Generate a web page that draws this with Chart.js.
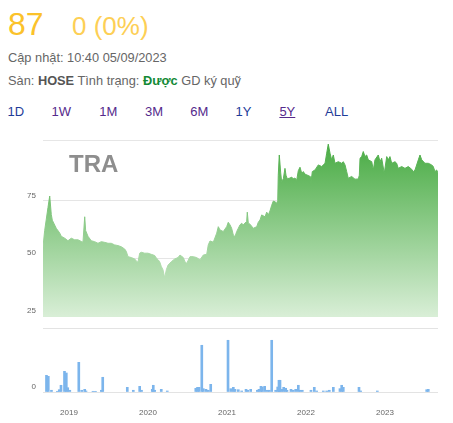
<!DOCTYPE html>
<html>
<head>
<meta charset="utf-8">
<script src="https://cdn.jsdelivr.net/npm/chart.js@4.4.0/dist/chart.umd.min.js"></script>
<style>
html,body{margin:0;padding:0;background:#fff;}
body{width:453px;height:423px;position:relative;overflow:hidden;font-family:"Liberation Sans",Arial,sans-serif;color:#666;}
.t{position:absolute;white-space:nowrap;}
#last{left:8px;top:8px;font-size:32px;line-height:32px;color:#fbc22a;}
#chg{left:72px;top:13px;font-size:26px;line-height:26px;color:#fdcf55;}
#upd{left:8px;top:50px;font-size:12.8px;line-height:15px;color:#666;}
#info{left:8px;top:73px;font-size:12.8px;line-height:15px;color:#666;}
#info b{color:#555;}
#info .ok{color:#138a36;font-weight:bold;}
.tab{position:absolute;top:104px;font-size:13px;line-height:15px;color:#1f3c99;}
.tab.v{color:#552a8c;}
.tab.cur{text-decoration:underline;}
#sym{left:69px;top:152px;font-size:24px;line-height:24px;font-weight:bold;color:#8e8e8e;}
#priceBox{position:absolute;left:0;top:130px;}
#volBox{position:absolute;left:0;top:328px;}
canvas{display:block;}
</style>
</head>
<body>
<div class="t" id="last">87</div>
<div class="t" id="chg">0 (0%)</div>
<div class="t" id="upd">Cập nhật: 10:40 05/09/2023</div>
<div class="t" id="info">Sàn: <b>HOSE</b> Tình trạng: <span class="ok">Được</span> GD ký quỹ</div>
<div class="tab" style="left:7.6px">1D</div>
<div class="tab v" style="left:51.6px">1W</div>
<div class="tab v" style="left:99.3px">1M</div>
<div class="tab v" style="left:145px">3M</div>
<div class="tab v" style="left:190.3px">6M</div>
<div class="tab" style="left:235.6px">1Y</div>
<div class="tab v cur" style="left:279.4px">5Y</div>
<div class="tab" style="left:325px">ALL</div>

<div id="priceBox"><canvas id="priceChart" width="453" height="200"></canvas></div>
<div id="volBox"><canvas id="volChart" width="453" height="95"></canvas></div>
<div class="t" id="sym">TRA</div>

<script>
// time axis in decimal years (Sep 2018 -> Sep 2023)
const xMin = 2018.671;
const xMax = 2023.671;
const yearTicks = [2019, 2020, 2021, 2022, 2023];

// price axis
const priceMin = 19.75;
const priceMax = 101;
const priceTicks = [25, 50, 75];

// closing price
const priceTime = [
  2018.671, 2018.692, 2018.713, 2018.734, 2018.756, 2018.776, 2018.789, 2018.819, 2018.839, 2018.882,
  2018.903, 2018.946, 2018.987, 2019.029, 2019.072, 2019.114, 2019.156, 2019.177, 2019.199, 2019.211,
  2019.241, 2019.282, 2019.325, 2019.367, 2019.409, 2019.452, 2019.494, 2019.535, 2019.578, 2019.620,
  2019.662, 2019.705, 2019.725, 2019.747, 2019.789, 2019.832, 2019.852, 2019.873, 2019.895, 2019.915,
  2019.958, 2020.000, 2020.042, 2020.085, 2020.105, 2020.127, 2020.148, 2020.168, 2020.190, 2020.211,
  2020.232, 2020.253, 2020.295, 2020.338, 2020.380, 2020.405, 2020.447, 2020.468, 2020.490, 2020.532,
  2020.573, 2020.616, 2020.658, 2020.700, 2020.743, 2020.763, 2020.785, 2020.827, 2020.870, 2020.890,
  2020.911, 2020.953, 2020.996, 2021.016, 2021.038, 2021.059, 2021.080, 2021.101, 2021.123, 2021.143,
  2021.165, 2021.186, 2021.206, 2021.249, 2021.257, 2021.270, 2021.291, 2021.333, 2021.376, 2021.396,
  2021.418, 2021.439, 2021.481, 2021.503, 2021.523, 2021.544, 2021.566, 2021.586, 2021.608, 2021.629,
  2021.642, 2021.649, 2021.662, 2021.680, 2021.692, 2021.713, 2021.734, 2021.747, 2021.763, 2021.797,
  2021.819, 2021.839, 2021.861, 2021.882, 2021.903, 2021.924, 2021.946, 2021.966, 2021.987, 2022.009,
  2022.051, 2022.063, 2022.080, 2022.114, 2022.156, 2022.199, 2022.241, 2022.262, 2022.282, 2022.304,
  2022.325, 2022.346, 2022.367, 2022.409, 2022.452, 2022.472, 2022.494, 2022.515, 2022.535, 2022.578,
  2022.620, 2022.662, 2022.675, 2022.684, 2022.705, 2022.725, 2022.747, 2022.768, 2022.789, 2022.832,
  2022.852, 2022.873, 2022.915, 2022.937, 2022.958, 2022.991, 2023.022, 2023.042, 2023.063, 2023.085,
  2023.127, 2023.148, 2023.168, 2023.211, 2023.253, 2023.295, 2023.338, 2023.358, 2023.380, 2023.422,
  2023.443, 2023.465, 2023.506, 2023.548, 2023.591, 2023.611, 2023.633, 2023.654, 2023.671
];
const prices = [
  55, 62, 67, 72, 77, 69, 66.5, 64.4, 63, 61,
  59.5, 58.7, 57.6, 58.7, 58, 58, 57.3, 57, 68, 62,
  59.5, 57.6, 57.2, 56.5, 57.2, 56.9, 56.5, 56.5, 55.8, 55.5,
  55, 54, 53, 50.7, 50.3, 49.7, 48.8, 48.3, 52.2, 52.6,
  52.2, 52.2, 51.7, 51.2, 50.1, 49.4, 48.5, 46.5, 45, 41.5,
  45, 47, 48.5, 49.7, 50.3, 51.4, 50.3, 48.5, 47.8, 50.7,
  50.7, 50.3, 49.3, 51.4, 51.7, 55.8, 57.5, 57, 60.9, 63.7,
  62.3, 61.6, 63.7, 65.6, 64.5, 63, 60.1, 59.4, 61.6, 63,
  64.5, 65.2, 64.5, 66, 70, 65.2, 64.8, 63, 63.7, 65.6,
  66.6, 68.8, 68, 70, 68.8, 70.5, 73, 74.8, 74.5, 73.9,
  75, 86, 94.8, 87, 83.2, 84.5, 89, 86, 84.5, 84.8,
  85.2, 84.5, 84.8, 83.8, 88, 89.5, 86.9, 87.6, 86.5, 86.2,
  85.5, 82.5, 87.6, 88.3, 90.5, 89.8, 91.2, 95.6, 99.5, 95.6,
  92.7, 94.8, 91.2, 91.9, 91.2, 91.9, 90.5, 87.6, 84.7, 85.5,
  84.3, 84.4, 86, 93.4, 94.1, 96.3, 94.1, 94.8, 92.7, 91.9,
  88.3, 92.7, 94.8, 91.9, 93.4, 86.9, 94.1, 92.7, 94.1, 91.2,
  91.9, 91.2, 89, 89.8, 89, 89.8, 88.6, 87.6, 88.3, 92.7,
  94.8, 92.7, 91.2, 91.2, 90.5, 89.8, 87.6, 88.3, 87
];

// traded volume (thousand shares, estimated)
const volMax = 1000;
const volTime = [
  2018.715, 2018.738, 2018.778, 2018.852, 2018.877, 2018.899, 2018.943, 2018.966, 2018.984, 2019.010,
  2019.124, 2019.161, 2019.199, 2019.215, 2019.304, 2019.335, 2019.409, 2019.427, 2019.738, 2019.814,
  2019.895, 2019.918, 2020.054, 2020.067, 2020.085, 2020.168, 2020.244, 2020.605, 2020.627, 2020.646,
  2020.681, 2020.700, 2020.734, 2020.763, 2020.794, 2021.013, 2021.048, 2021.080, 2021.101, 2021.143,
  2021.186, 2021.241, 2021.262, 2021.300, 2021.384, 2021.405, 2021.430, 2021.447, 2021.477, 2021.510,
  2021.535, 2021.566, 2021.616, 2021.642, 2021.658, 2021.671, 2021.692, 2021.718, 2021.743, 2021.759,
  2021.810, 2021.839, 2021.870, 2021.903, 2021.924, 2021.953, 2022.063, 2022.105, 2022.135, 2022.219,
  2022.262, 2022.295, 2022.346, 2022.430, 2022.452, 2022.472, 2022.671, 2022.692, 2022.903, 2023.528,
  2023.548
];
const volumes = [
  261, 245, 27, 11, 36, 105, 323, 297, 67, 27,
  464, 27, 42, 16, 11, 11, 27, 230, 73, 27,
  89, 27, 42, 105, 27, 42, 16, 58, 73, 73,
  730, 52, 42, 27, 120, 808, 52, 73, 42, 36,
  16, 42, 27, 42, 27, 42, 89, 78, 89, 27,
  27, 808, 27, 78, 183, 183, 42, 73, 58, 27,
  42, 27, 42, 105, 27, 27, 27, 73, 16, 16,
  16, 27, 73, 52, 105, 73, 73, 16, 16, 36,
  42
];

const FONT = '"Liberation Sans", Arial, sans-serif';
Chart.defaults.font.family = FONT;

function greenFill(c){
  const chart = c.chart;
  const area = chart.chartArea;
  if(!area) return "rgb(120,190,115)";
  const bottom = chart.scales.y.getPixelForValue(25);
  const g = chart.ctx.createLinearGradient(0, area.top, 0, bottom);
  g.addColorStop(0, "rgb(70,170,65)");
  g.addColorStop(1, "rgb(216,238,214)");
  return g;
}

function fixWidth(s){
  s.width = 43;
  s.paddingTop = 0;
  s.paddingBottom = 0;
}

new Chart(document.getElementById("priceChart"), {
  type: "line",
  data: {
    datasets: [{
      data: priceTime.map((t, i) => ({ x: t, y: prices[i] })),
      borderColor: greenFill,
      backgroundColor: greenFill,
      borderWidth: 1,
      pointRadius: 0,
      tension: 0,
      fill: { value: 24.5 }
    }]
  },
  options: {
    responsive: false,
    animation: false,
    layout: { padding: { top: 10.7, right: 15, bottom: 2, left: 0 } },
    plugins: { legend: { display: false }, tooltip: { enabled: false } },
    scales: {
      x: { type: "linear", min: xMin, max: xMax, display: false },
      y: {
        min: priceMin, max: priceMax, z: 1,
        afterBuildTicks: s => { s.ticks = [priceMin, ...priceTicks, priceMax].map(v => ({ value: v })); },
        afterFit: fixWidth,
        border: { display: false },
        grid: {
          drawTicks: false,
          color: c => {
            const v = c.tick.value;
            if(v === priceMin) return "rgba(0,0,0,0)";
            if(v === priceMax) return "#e6e6e6";
            if(v === 25) return "rgba(130,130,130,0.45)";
            return "rgba(0,0,0,0.1)";
          },
          lineWidth: c => c.tick.value === 25 ? 3 : 1
        },
        ticks: {
          padding: 7, labelOffset: -5, color: "#666",
          font: { size: 8 },
          callback: v => priceTicks.includes(v) ? String(v) : ""
        }
      }
    }
  }
});

new Chart(document.getElementById("volChart"), {
  type: "bar",
  data: {
    datasets: [{
      data: volTime.map((t, i) => ({ x: t, y: volumes[i] })),
      backgroundColor: "#7cb5ec",
      borderWidth: 0,
      barThickness: 2
    }]
  },
  options: {
    responsive: false,
    animation: false,
    layout: { padding: { top: 0, right: 15, bottom: 0, left: 0 } },
    plugins: { legend: { display: false }, tooltip: { enabled: false } },
    scales: {
      x: {
        type: "linear", min: xMin, max: xMax, offset: false,
        afterBuildTicks: s => { s.ticks = yearTicks.map(v => ({ value: v })); },
        afterFit: s => { s.height = 31; s.paddingLeft = 0; s.paddingRight = 0; },
        grid: { display: false, drawTicks: false },
        border: { display: false },
        ticks: {
          padding: 15.5, color: "#666", autoSkip: false, maxRotation: 0,
          font: { size: 8 },
          callback: v => String(v)
        }
      },
      y: {
        min: 0, max: volMax, z: 1,
        afterBuildTicks: s => { s.ticks = [0, volMax].map(v => ({ value: v })); },
        afterFit: fixWidth,
        border: { display: false },
        grid: { drawTicks: false, color: "#e3e3e3" },
        ticks: {
          padding: 7, labelOffset: -5, color: "#666",
          font: { size: 8 },
          callback: v => v === 0 ? "0" : ""
        }
      }
    }
  }
});
</script>
</body>
</html>
